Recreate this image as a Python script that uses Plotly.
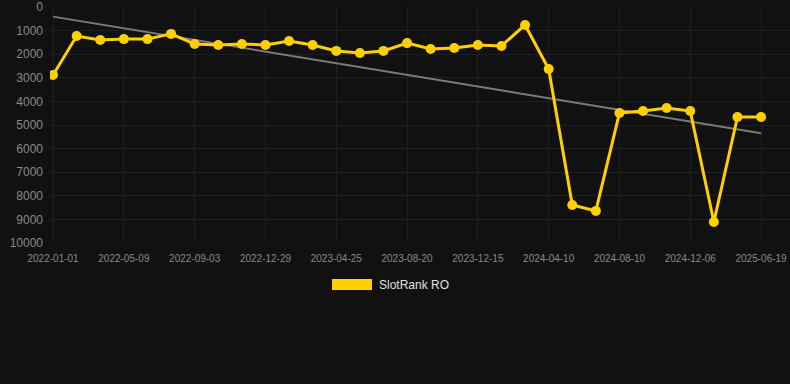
import numpy as np
import plotly.graph_objects as go

dates = [
    "2022-01-01", "2022-02-13", "2022-03-28",
    "2022-05-09", "2022-06-17", "2022-07-26",
    "2022-09-03", "2022-10-12", "2022-11-20",
    "2022-12-29", "2023-02-06", "2023-03-17",
    "2023-04-25", "2023-06-03", "2023-07-12",
    "2023-08-20", "2023-09-28", "2023-11-06",
    "2023-12-15", "2024-01-23", "2024-03-02",
    "2024-04-10", "2024-05-20", "2024-06-30",
    "2024-08-10", "2024-09-18", "2024-10-28",
    "2024-12-06", "2025-02-09", "2025-04-15",
    "2025-06-19",
]
ranks = [
    2880, 1230, 1400, 1360, 1360, 1140, 1570, 1610, 1570, 1610,
    1440, 1610, 1860, 1950, 1860, 1530, 1780, 1740, 1610, 1650,
    760, 2630, 8390, 8640, 4490, 4410, 4280, 4410, 9110, 4660,
    4660,
]
tick_labels = dates[::3]
y_ticks = list(range(0, 10001, 1000))
y_tick_text = [str(v) for v in y_ticks]
series_name = "SlotRank RO"

idx = np.arange(len(ranks))
slope, intercept = np.polyfit(idx, ranks, 1)
trend = slope * idx + intercept

PLOT_L, PLOT_W = 50, 740

fig = go.Figure()
fig.add_trace(go.Scatter(
    x=dates, y=trend, mode="lines",
    line=dict(color="#7a7a7a", width=2),
    showlegend=False, hoverinfo="skip",
))
fig.add_trace(go.Scatter(
    x=dates, y=ranks, mode="lines+markers", name=series_name,
    line=dict(color="#FFD000", width=3),
    marker=dict(color="#FFD000", size=10),
    showlegend=False,
))

# legend drawn as a swatch + text
fig.add_shape(type="rect", xref="paper", yref="paper",
              x0=(332 - PLOT_L) / PLOT_W, x1=(372 - PLOT_L) / PLOT_W,
              y0=-(279 - 243) / 236, y1=-(290 - 243) / 236,
              fillcolor="#FFD000", line=dict(width=0))
fig.add_annotation(text=series_name, xref="paper", yref="paper",
                   x=(377 - PLOT_L) / PLOT_W, y=-(284.5 - 243) / 236,
                   xanchor="left", yanchor="middle", showarrow=False,
                   font=dict(family="Liberation Sans, Arial, sans-serif",
                             size=12, color="#e0e0e0"))

fig.update_layout(
    width=790, height=384,
    margin=dict(l=PLOT_L, r=0, t=7, b=141),
    paper_bgcolor="#111111", plot_bgcolor="#111111",
    font=dict(family="Liberation Sans, Arial, sans-serif", color="#8a8a8a"),
    xaxis=dict(
        type="category", categoryorder="array", categoryarray=dates,
        range=[-0.13, -0.13 + PLOT_W / 23.6],
        tickmode="array", tickvals=tick_labels, ticktext=tick_labels,
        tickfont=dict(size=10, color="#8a8a8a"),
        showgrid=True, gridcolor="#1f1f1f", gridwidth=1,
        showline=False, zeroline=False, ticks="", ticklabelstandoff=8,
        automargin=False,
    ),
    yaxis=dict(
        range=[10000, 0], tickmode="array", tickvals=y_ticks,
        ticktext=y_tick_text,
        tickfont=dict(size=12, color="#8a8a8a"),
        showgrid=True, gridcolor="#1f1f1f", gridwidth=1,
        zeroline=False, showline=False, ticks="", ticklabelstandoff=6,
        automargin=False,
    ),
    showlegend=False,
)

fig.write_html(
    "out.html",
    config={"displayModeBar": False},
    post_script="document.body.style.margin='0';document.body.style.background='#111111';",
)
